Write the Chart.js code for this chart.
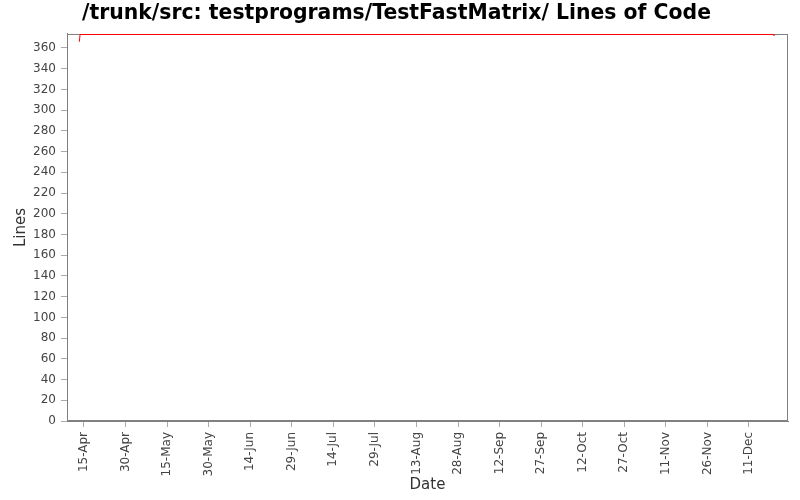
<!DOCTYPE html>
<html>
<head>
<meta charset="utf-8">
<script src="https://cdn.jsdelivr.net/npm/chart.js@4.4.0/dist/chart.umd.min.js"></script>
<style>
  html, body { margin: 0; padding: 0; background: #fff; }
  #wrap { width: 800px; height: 500px; }
</style>
</head>
<body>
<div id="wrap"><canvas id="loc" width="800" height="500"></canvas></div>
<script>
// commit dates and lines of code
const dates = ['2009-04-13T08:00', '2009-04-13T14:00', '2009-12-19T18:00', '2009-12-20T00:00'];
const lines = [366, 373, 373, 372];

// x axis ticks, every 15 days
const tickDates = ['2009-04-15', '2009-04-30', '2009-05-15', '2009-05-30', '2009-06-14',
  '2009-06-29', '2009-07-14', '2009-07-29', '2009-08-13', '2009-08-28', '2009-09-12',
  '2009-09-27', '2009-10-12', '2009-10-27', '2009-11-11', '2009-11-26', '2009-12-11'];
const tickLabels = ['15-Apr', '30-Apr', '15-May', '30-May', '14-Jun', '29-Jun', '14-Jul',
  '29-Jul', '13-Aug', '28-Aug', '12-Sep', '27-Sep', '12-Oct', '27-Oct', '11-Nov', '26-Nov', '11-Dec'];

const rangeStart = '2009-04-08T21:00';
const rangeEnd = '2009-12-25T02:00';

// days since Jan 1 as number
const toDay = (s) => (Date.parse(s + (s.length > 10 ? ':00Z' : 'T00:00:00Z')) - Date.UTC(2009, 0, 1)) / 86400000;

const points = dates.map((d, i) => ({ x: toDay(d), y: lines[i] }));
const tickDays = tickDates.map(toDay);

const plotBorder = {
  id: 'plotBorder',
  beforeDatasetsDraw(chart) {
    const a = chart.chartArea, ctx = chart.ctx;
    ctx.save();
    ctx.strokeStyle = '#808080';
    ctx.lineWidth = 1;
    ctx.strokeRect(a.left + 0.5, a.top + 0.5, a.right - a.left - 1, a.bottom - a.top - 1);
    ctx.restore();
  }
};

const tickColor = '#444';
const fontFam = '"DejaVu Sans", sans-serif';

new Chart(document.getElementById('loc'), {
  type: 'line',
  plugins: [plotBorder],
  data: {
    datasets: [{
      data: points,
      borderColor: '#ff0000',
      borderWidth: 1,
      pointRadius: 0,
      tension: 0,
      fill: false
    }]
  },
  options: {
    responsive: false,
    devicePixelRatio: 1,
    animation: false,
    layout: { padding: { left: 5, right: 12, top: 0, bottom: 0 } },
    plugins: {
      legend: { display: false },
      tooltip: { enabled: false },
      title: {
        display: true,
        text: '/trunk/src: testprograms/TestFastMatrix/ Lines of Code',
        color: '#000',
        font: { family: fontFam, size: 20.4, weight: 'bold' },
        padding: { top: 1, bottom: 8.5 }
      }
    },
    scales: {
      x: {
        type: 'linear',
        min: toDay(rangeStart),
        max: toDay(rangeEnd),
        afterBuildTicks: (scale) => { scale.ticks = tickDays.map(v => ({ value: v })); },
        afterFit: (scale) => { scale.height = 79; },
        grid: { drawOnChartArea: false, drawTicks: true, tickLength: 6, color: '#aaa' },
        border: { display: true, color: '#808080' },
        ticks: {
          autoSkip: false,
          minRotation: 90,
          maxRotation: 90,
          padding: 5,
          color: tickColor,
          font: { family: fontFam, size: 12 },
          callback: (v) => { const i = tickDays.indexOf(v); return i >= 0 ? tickLabels[i] : ''; }
        },
        title: {
          display: true,
          text: 'Date',
          color: '#333',
          font: { family: fontFam, size: 15 },
          padding: { top: 0, bottom: 6 }
        }
      },
      y: {
        min: 0,
        max: 373.5,
        afterBuildTicks: (scale) => { scale.ticks = scale.ticks.filter(t => t.value % 20 === 0); },
        afterFit: (scale) => { scale.width = 62; },
        grid: { drawOnChartArea: false, drawTicks: true, tickLength: 6, color: '#aaa' },
        border: { display: true, color: '#808080' },
        ticks: {
          stepSize: 20,
          padding: 5,
          color: tickColor,
          font: { family: fontFam, size: 12 }
        },
        title: {
          display: true,
          text: 'Lines',
          color: '#333',
          font: { family: fontFam, size: 15 },
          padding: { top: 7, bottom: 4 }
        }
      }
    }
  }
});
</script>
</body>
</html>
